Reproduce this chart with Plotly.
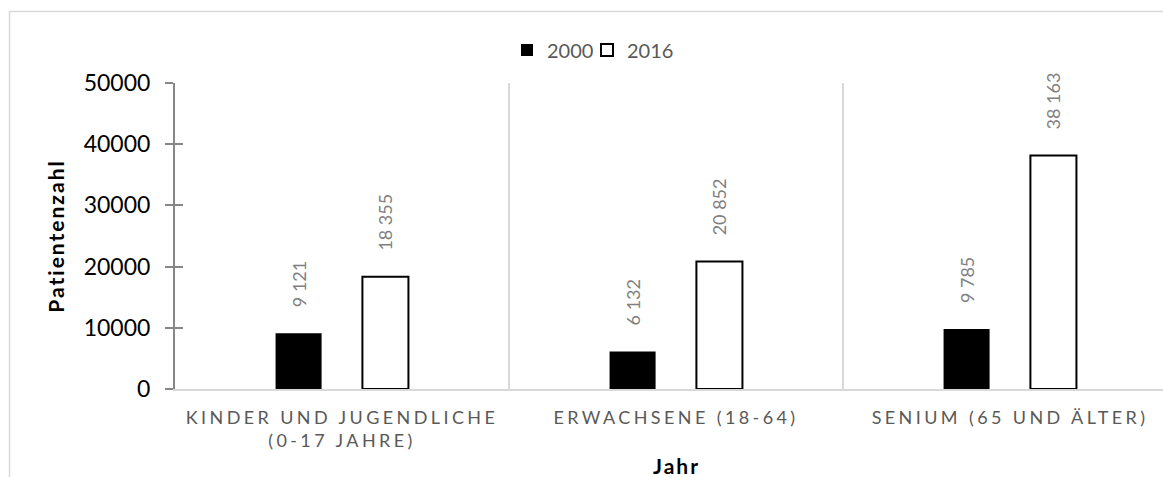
import plotly.graph_objects as go

# Altersgruppen und Patientenzahlen
categories = ["KINDER UND JUGENDLICHE<br>(0-17 JAHRE)", "ERWACHSENE (18-64)", "SENIUM (65 UND ÄLTER)"]
patients_2000 = [9121, 6132, 9785]
patients_2016 = [18355, 20852, 38163]
y_ticks = [0, 10000, 20000, 30000, 40000, 50000]

FONT = "Lato"
W, H = 1163, 477
M_L, M_R, M_T, M_B = 175, 0, 83, 88
PW, PH = W - M_L - M_R, H - M_T - M_B
CAT_PX = 334  # pixel width of one category band


def spaced(label, spacing=3.4):
    return "<br>".join(
        f"<span style='letter-spacing:{spacing}px'>{line}</span>" for line in label.split("<br>")
    )


x_idx = list(range(len(categories)))
pad = "\u00a0" * 5
label_font = dict(family=FONT, size=18, color="#7f7f7f")

fig = go.Figure()
fig.add_trace(go.Bar(
    name="2000", x=x_idx, y=patients_2000, legend="legend",
    marker=dict(color="black", line=dict(width=0)),
    texttemplate=pad + "%{y:,}", textposition="outside", textangle=-90,
    textfont=label_font, constraintext="none", cliponaxis=False,
))
fig.add_trace(go.Bar(
    name="2016", x=x_idx, y=patients_2016, legend="legend2",
    marker=dict(color="white", line=dict(color="black", width=2)),
    texttemplate=pad + "%{y:,}", textposition="outside", textangle=-90,
    textfont=label_font, constraintext="none", cliponaxis=False,
))
# carrier for the inner half of the y tick marks
fig.add_trace(go.Scatter(x=[None], y=[None], yaxis="y2", showlegend=False,
                         hoverinfo="skip", mode="markers"))

x_right = -0.5 + PW / CAT_PX


def legend_at(px_left):
    return dict(
        orientation="h", x=(px_left - M_L) / PW, xanchor="left",
        y=1 + (M_T - 50) / PH, yanchor="middle",
        font=dict(family=FONT, size=20, color="#595959"),
        bgcolor="rgba(0,0,0,0)", borderwidth=0, itemwidth=30,
    )


fig.update_layout(
    width=W, height=H,
    margin=dict(l=M_L, r=M_R, t=M_T, b=M_B, pad=0),
    paper_bgcolor="white", plot_bgcolor="white",
    font=dict(family=FONT, color="black"),
    separators=". ",
    barmode="group", bargap=0.48, bargroupgap=0.47,
    showlegend=True,
    legend=legend_at(507),
    legend2=legend_at(587),
    xaxis=dict(
        type="linear", range=[-0.5, x_right],
        tickmode="array", tickvals=x_idx, ticktext=[spaced(c) for c in categories],
        tickfont=dict(family=FONT, size=18, color="#595959"),
        ticks="", showline=True, linecolor="#d9d9d9", linewidth=2,
        showgrid=False, zeroline=False, ticklabelstandoff=11,
    ),
    yaxis=dict(
        range=[0, 50000], tickmode="array", tickvals=y_ticks, tickformat="d",
        tickfont=dict(family=FONT, size=23, color="black"),
        ticks="outside", ticklen=8, tickwidth=2, tickcolor="#868686",
        showline=True, linecolor="#868686", linewidth=2,
        showgrid=False, zeroline=False, ticklabelstandoff=10,
        title=dict(text="<span style='letter-spacing:2px'><b>Patientenzahl</b></span>",
                   font=dict(family=FONT, size=21, color="black"), standoff=13),
    ),
    yaxis2=dict(
        overlaying="y", side="left", range=[0, 50000], tickmode="array", tickvals=y_ticks,
        ticks="inside", ticklen=8, tickwidth=2, tickcolor="#868686",
        showticklabels=False, showline=False, showgrid=False, zeroline=False,
    ),
)

# Achsentitel der x-Achse, mittig unter dem gesamten Diagrammbereich
fig.add_annotation(
    text="<span style='letter-spacing:2px'><b>Jahr</b></span>",
    xref="paper", yref="paper", x=(676 - M_L) / PW, y=-(465 - (H - M_B)) / PH,
    xanchor="center", yanchor="middle", showarrow=False,
    font=dict(family=FONT, size=21, color="black"),
)

# Trennlinien zwischen den Altersgruppen
shapes = []
for b in [i + 0.5 for i in x_idx]:
    if b < x_right:
        shapes.append(dict(type="line", xref="x", yref="paper", x0=b, x1=b, y0=0, y1=1,
                           line=dict(color="#d9d9d9", width=2), layer="below"))
# Rahmen des Diagrammbereichs
shapes.append(dict(
    type="rect", xref="paper", yref="paper",
    x0=(9.5 - M_L) / PW, x1=1.2, y0=-(M_B + 10) / PH, y1=1 + (M_T - 11.5) / PH,
    line=dict(color="#d9d9d9", width=1.5), fillcolor="rgba(0,0,0,0)", layer="below",
))
fig.update_layout(shapes=shapes)

fig.write_html("out.html")
